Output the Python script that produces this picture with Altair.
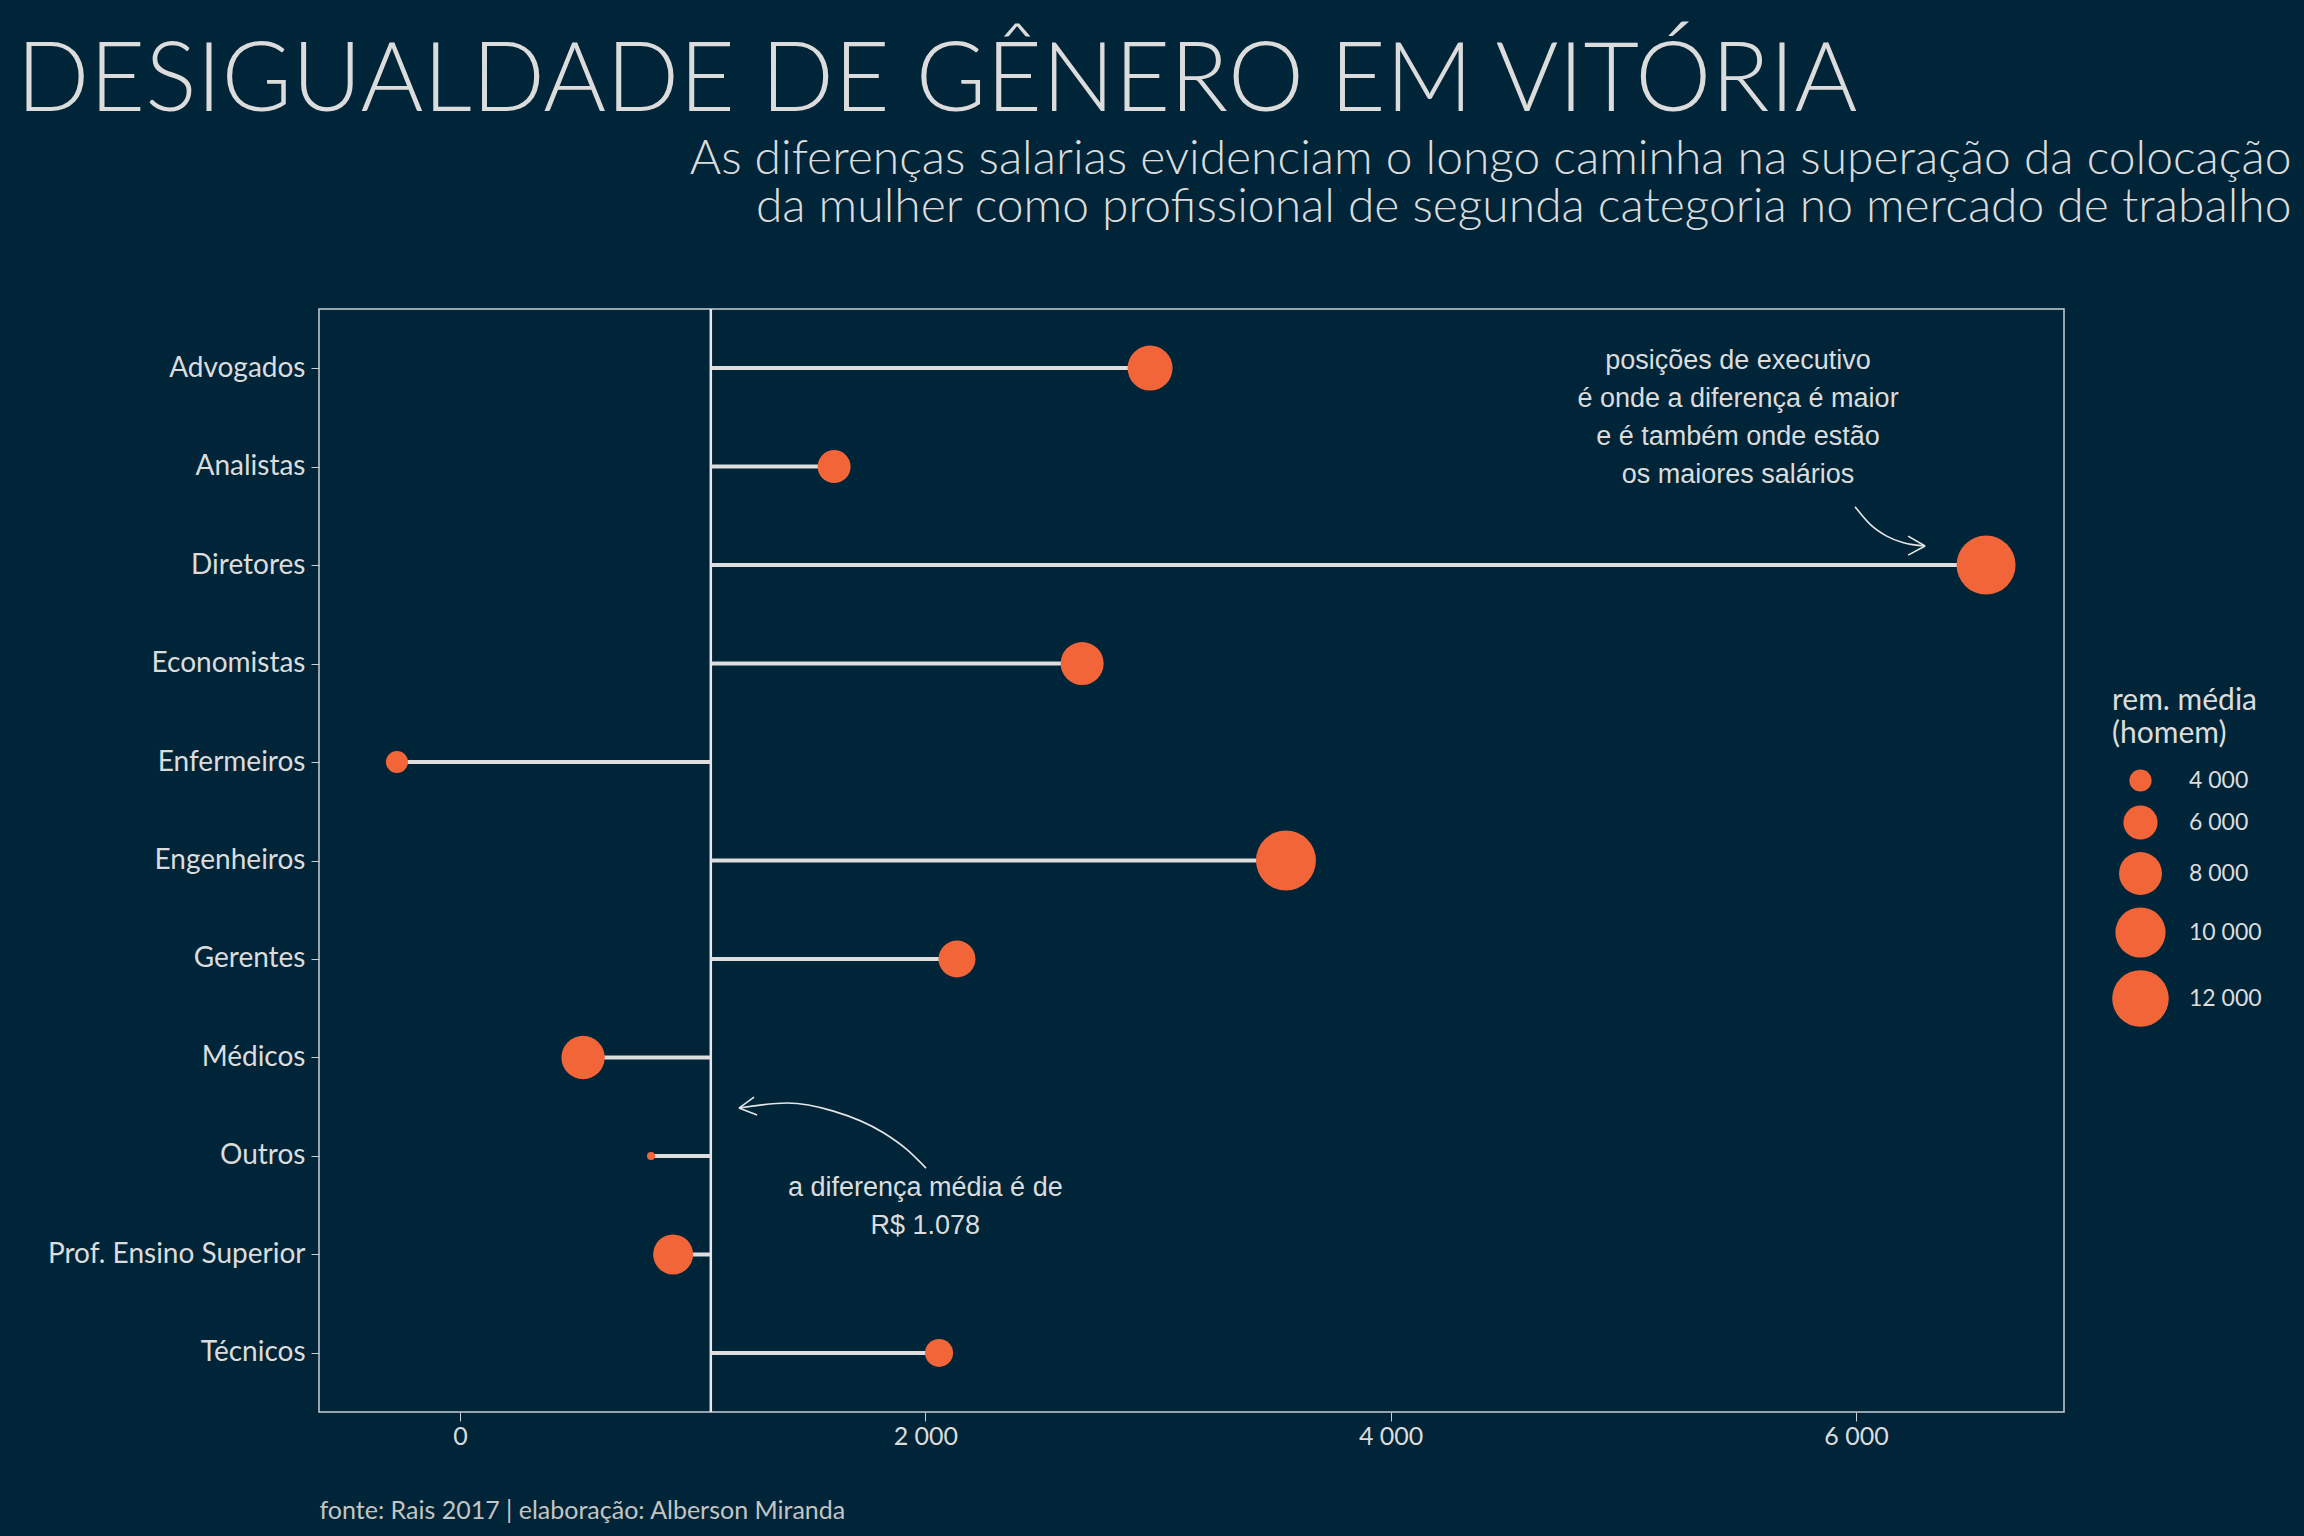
import altair as alt
import pandas as pd

# ---- data -------------------------------------------------------------
categories = ["Advogados", "Analistas", "Diretores", "Economistas", "Enfermeiros",
              "Engenheiros", "Gerentes", "Médicos", "Outros",
              "Prof. Ensino Superior", "Técnicos"]
diff_values = [2966, 1608, 6559, 2674, -271, 3550, 2136, 529, 821, 916, 2059]
rem_homem = [8530, 5760, 12830, 8010, 3980, 13180, 6590, 8100, 2740, 7270, 4860]
mean_diff = 1078

x_ticks = [0, 2000, 4000, 6000]
legend_values = [4000, 6000, 8000, 10000, 12000]

title_text = "DESIGUALDADE DE GÊNERO EM VITÓRIA"
subtitle_lines = [
    "As diferenças salarias evidenciam o longo caminha na superação da colocação",
    "da mulher como profissional de segunda categoria no mercado de trabalho",
]
caption_text = "fonte: Rais 2017 | elaboração: Alberson Miranda"
legend_title = ["rem. média", "(homem)"]

# annotations (x in R$, y in category-index units, first line position)
note_texts = ["posições de executivo\né onde a diferença é maior\ne é também onde estão\nos maiores salários",
              "a diferença média é de\nR$ 1.078"]
note_x = [5493, 2000]
note_y = [-0.07, 8.33]

arrow1_x = [5996, 6061, 6132, 6204, 6297]
arrow1_y = [1.408, 1.587, 1.706, 1.774, 1.807]
arrow2_x = [1199, 1406, 1605, 1820, 1920, 2003]
arrow2_y = [7.514, 7.463, 7.545, 7.765, 7.934, 8.124]
head_x = [6297, 6297, 1199, 1199]
head_y = [1.807, 1.807, 7.514, 7.514]
head_x2 = [6224, 6224, 1264, 1277]
head_y2 = [1.706, 1.899, 7.403, 7.585]

# ---- styling ----------------------------------------------------------
BG = "#012538"
TXT = "#dcdcdc"
ORANGE = "#F26539"
LINE = "#dedede"
FONT = "Lato"
ANN_FONT = "Liberation Sans"

W, H = 1745, 1103
PAD = {"left": 319, "top": 309, "right": 240, "bottom": 124}

x_dom = [-606, 6894]

df = pd.DataFrame({"cat": categories, "diff": diff_values, "rem": rem_homem,
                   "base": [mean_diff] * len(categories)})
df_mean = pd.DataFrame({"m": [mean_diff]})
df_notes = pd.DataFrame({"t": note_texts, "x": note_x, "y": note_y})
df_arrows = pd.DataFrame({
    "x": arrow1_x + arrow2_x,
    "y": arrow1_y + arrow2_y,
    "a": ["a1"] * len(arrow1_x) + ["a2"] * len(arrow2_x),
})
df_heads = pd.DataFrame({"x": head_x, "y": head_y, "x2": head_x2, "y2": head_y2})

x_scale = alt.Scale(domain=x_dom, nice=False, zero=False)
y_scale = alt.Scale(type="point", padding=0.6)

x_axis = alt.Axis(
    values=x_ticks,
    labelExpr="replace(format(datum.value, ','), ',', ' ')",
    grid=False, domain=False, ticks=True, tickSize=9, tickColor="#c9ced3",
    labelFont=FONT, labelFontSize=25, labelColor=TXT, labelPadding=3,
    title=caption_text, titleFont=FONT, titleFontSize=25, titleFontWeight="normal",
    titleColor="#c4c4c4", titleX=0, titleY=106, titleAlign="left",
    titleAnchor="start", titleBaseline="alphabetic",
)
y_axis = alt.Axis(
    title=None, grid=False, domain=False, ticks=True, tickSize=8,
    tickColor="#c9ced3", labelFont=FONT, labelFontSize=28, labelColor=TXT,
    labelPadding=6, labelLimit=0,
)

vline = alt.Chart(df_mean).mark_rule(color="#e8e8e8", strokeWidth=2.5).encode(
    x=alt.X("m:Q", scale=x_scale, axis=x_axis)
)
segments = alt.Chart(df).mark_rule(color=LINE, strokeWidth=4).encode(
    y=alt.Y("cat:N", sort=categories, scale=y_scale, axis=y_axis),
    x=alt.X("base:Q", scale=x_scale, axis=x_axis),
    x2="diff:Q",
)
points = alt.Chart(df).mark_circle(color=ORANGE, opacity=1).encode(
    y=alt.Y("cat:N", sort=categories, scale=y_scale, axis=y_axis),
    x=alt.X("diff:Q", scale=x_scale, axis=x_axis),
    size=alt.Size(
        "rem:Q",
        scale=alt.Scale(domain=[4000, 12000], range=[492, 3200], zero=False),
        legend=alt.Legend(
            title=legend_title, values=legend_values,
            labelExpr="replace(format(datum.value, ','), ',', ' ')",
            orient="none", legendX=1793, legendY=377, padding=0,
            titleFont=FONT, titleFontSize=30, titleFontWeight="normal",
            titleColor=TXT, titleLineHeight=33, titlePadding=20,
            labelFont=FONT, labelFontSize=23, labelColor=TXT, labelOffset=20,
            symbolFillColor=ORANGE, symbolStrokeWidth=0, symbolOpacity=1,
            symbolType="circle", rowPadding=12,
        ),
    ),
)
main = alt.layer(vline, segments, points)

qy_scale = alt.Scale(domain=[-0.6, 10.6], reverse=True, nice=False, zero=False)
top_axis = alt.Axis(
    orient="top", labels=False, ticks=False, domain=False, grid=False,
    title=title_text, titleFont=FONT, titleFontSize=96, titleFontWeight=300,
    titleColor=TXT, titleX=-303, titleY=-199, titleAlign="left",
    titleAnchor="start", titleBaseline="alphabetic", titleAngle=0,
)
right_axis = alt.Axis(
    orient="right", labels=False, ticks=False, domain=False, grid=False,
    title=subtitle_lines, titleFont=FONT, titleFontSize=48, titleFontWeight=300,
    titleColor=TXT, titleX=227, titleY=-136, titleAlign="right",
    titleAnchor="start", titleBaseline="alphabetic", titleAngle=0,
    titleLineHeight=48,
)

arrows = alt.Chart(df_arrows).mark_line(color="#e6e6e6", strokeWidth=1.6,
                                        interpolate="monotone").encode(
    x=alt.X("x:Q", scale=x_scale, axis=top_axis),
    y=alt.Y("y:Q", scale=qy_scale, axis=right_axis),
    detail="a:N",
)
heads = alt.Chart(df_heads).mark_rule(color="#e6e6e6", strokeWidth=1.6).encode(
    x=alt.X("x:Q", scale=x_scale, axis=top_axis),
    y=alt.Y("y:Q", scale=qy_scale, axis=right_axis),
    x2="x2:Q", y2="y2:Q",
)
notes = alt.Chart(df_notes).mark_text(
    font=ANN_FONT, fontSize=27, color=TXT, lineBreak="\n", lineHeight=38,
    align="center", baseline="middle",
).encode(
    x=alt.X("x:Q", scale=x_scale, axis=top_axis),
    y=alt.Y("y:Q", scale=qy_scale, axis=right_axis),
    text="t:N",
)
overlay = alt.layer(arrows, heads, notes)

chart = alt.layer(main, overlay).resolve_scale(
    x="independent", y="independent", size="independent"
).properties(
    width=W, height=H, background=BG, padding=PAD,
    autosize=alt.AutoSizeParams(type="none"),
).configure_view(stroke="#c9ced3", strokeWidth=1.5)

chart.save("out.html", embed_options={"renderer": "svg", "actions": False})
